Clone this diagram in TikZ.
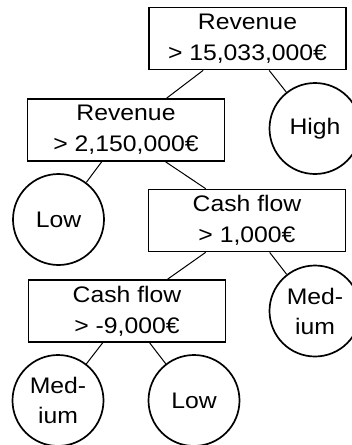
\documentclass[tikz,border=0pt]{standalone}
\usepackage{fontspec}
\setmainfont{Liberation Sans}[FakeStretch=1.1]
\begin{document}
\begin{tikzpicture}[x=1pt,y=-1pt,
  split/.style={draw,line width=1.7pt,minimum width=197pt,minimum height=62pt,
    inner sep=0pt,align=center,font=\fontsize{22.5}{31}\selectfont},
  leaf/.style={draw,circle,line width=1.7pt,minimum size=91pt,inner sep=0pt,
    align=center,font=\fontsize{22.5}{30}\selectfont},
  edge/.style={line width=1pt}]
\useasboundingbox (0,0) rectangle (352,445);
\begin{scope}
\clip (0,0) rectangle (352,445);
% decision boxes
\node[split] (root) at (247.5,38.5) {Revenue\\> 15,033,000€};
\node[split] (rev2) at (126,130) {Revenue\\> 2,150,000€};
\node[split] (cf1) at (247,220.5) {Cash flow\\> 1,000€};
\node[split] (cf2) at (127,311) {Cash flow\\> -9,000€};
% leaves
\node[leaf] (high) at (315,128.5) {High};
\node[leaf] (low1) at (58.5,219.5) {Low};
\node[leaf] (med1) at (315,311) {Med-\\ium};
\node[leaf] (med2) at (58,400.5) {Med-\\ium};
\node[leaf] (low2) at (194,400.5) {Low};
% branches
\draw[edge] ([xshift=55pt]root.south west) -- ([xshift=140pt]rev2.north west);
\draw[edge] ([xshift=121pt]root.south west) -- (high);
\draw[edge] ([xshift=75pt]rev2.south west) -- (low1);
\draw[edge] ([xshift=139pt]rev2.south west) -- ([xshift=58pt]cf1.north west);
\draw[edge] ([xshift=58pt]cf1.south west) -- ([xshift=140pt]cf2.north west);
\draw[edge] ([xshift=122pt]cf1.south west) -- (med1);
\draw[edge] ([xshift=75pt]cf2.south west) -- (med2);
\draw[edge] ([xshift=122pt]cf2.south west) -- (low2);
\end{scope}
\end{tikzpicture}
\end{document}
